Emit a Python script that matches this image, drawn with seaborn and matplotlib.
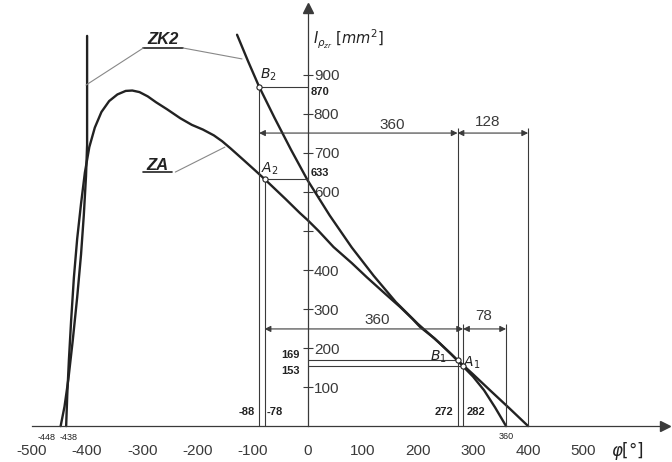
import numpy as np
import pandas as pd
import seaborn as sns
import matplotlib.pyplot as plt

# curve ZK2, left branch (nearly vertical) and right branch
zk2_left_phi = [-400, -400, -402, -406, -411, -418, -426, -434, -441, -448]
zk2_left_i = [1000, 720, 640, 540, 440, 330, 220, 120, 50, 0]
zk2_right_phi = [-128, -108, -88, -60, -30, 0, 40, 80, 120, 160, 200, 240, 272, 300, 330, 365, 400]
zk2_right_i = [1003, 935, 870, 790, 708, 630, 540, 458, 385, 318, 262, 212, 169, 133, 93, 47, 0]

# curve ZA
za_phi = [-438, -436, -433, -429, -424, -418, -411, -404, -396, -386, -374, -360,
          -345, -330, -318, -305, -290, -275, -255, -231, -210, -190, -170, -155,
          -140, -117, -95, -78, -40, -14, 0, 20, 47, 80, 107, 140, 168, 190,
          204, 230, 260, 282, 300, 320, 340, 360]
za_i = [0, 80, 170, 270, 380, 480, 570, 650, 715, 765, 805, 833,
        850, 859, 860, 856, 845, 830, 812, 789, 772, 760, 745, 730,
        712, 683, 655, 633, 582, 546, 528, 500, 459, 418, 382, 340, 305, 275,
        254, 225, 185, 153, 127, 92, 48, 0]

# characteristic points
pt_phi = [-88, -78, 272, 282]
pt_i = [870, 633, 169, 153]

# ticks
x_ticks = [-500, -400, -300, -200, -100, 0, 100, 200, 300, 400, 500]
y_ticks = [100, 200, 300, 400, 500, 600, 700, 800, 900]
y_ticklabels = ["100", "200", "300", "400", "", "600", "700", "800", "900"]

# dimension chains: (start, end, level, label)
dim_upper = [(-88, 272, 751, "360"), (272, 400, 751, "128")]
dim_lower = [(-78, 282, 249, "360"), (282, 360, 249, "78")]

sns.set_style("white")
plt.rcParams['font.family'] = ['Liberation Sans', 'DejaVu Sans']
plt.rcParams['mathtext.fontset'] = 'dejavusans'

fig = plt.figure(figsize=(6.72, 4.62), dpi=100)
ax = fig.add_axes([0, 0, 1, 1])
ax.set_xlim(-558, 661)
ax.set_ylim(-92, 1092)

ink = "#222222"
thin = "#3a3a3a"

sns.lineplot(x=zk2_left_phi, y=zk2_left_i, estimator=None, sort=False, color=ink, lw=1.7, ax=ax)
sns.lineplot(x=zk2_right_phi, y=zk2_right_i, estimator=None, sort=False, color=ink, lw=1.7, ax=ax)
sns.lineplot(x=za_phi, y=za_i, estimator=None, sort=False, color=ink, lw=1.7, ax=ax)

# construction lines
ax.vlines([-88, -78, 272, 400, 282, 360], 0, [870, 633, 764, 764, 262, 262], color=thin, lw=0.8)
ax.hlines([870, 633], [-88, -78], 0, color=thin, lw=0.8)
ax.hlines([169, 153], 0, [272, 282], color=thin, lw=0.8)

for a, b, lev, lab in dim_upper + dim_lower:
    ax.annotate("", xy=(b, lev), xytext=(a, lev),
                arrowprops=dict(arrowstyle='<|-|>', color=thin, lw=0.8,
                                shrinkA=0, shrinkB=0, mutation_scale=9))
ax.text(153, 772, "360", fontsize=11, ha='center', va='center', color=thin)
ax.text(326, 779, "128", fontsize=11, ha='center', va='center', color=thin)
ax.text(126, 272, "360", fontsize=11, ha='center', va='center', color=thin)
ax.text(319, 282, "78", fontsize=11, ha='center', va='center', color=thin)

sns.scatterplot(x=pt_phi, y=pt_i, s=14, facecolor='white', edgecolor=ink, linewidth=0.8, zorder=5, ax=ax)
ax.text(-72, 900, "$B_2$", fontsize=10, ha='center', va='center', color=ink)
ax.text(-68, 659, "$A_2$", fontsize=10, ha='center', va='center', color=ink)
ax.text(237, 177, "$B_1$", fontsize=10, ha='center', va='center', color=ink)
ax.text(297, 162, "$A_1$", fontsize=10, ha='center', va='center', color=ink)

# value labels
bold = dict(fontsize=8, fontweight='bold', color=ink, va='center')
ax.text(-95, 36, "-88", ha='right', **bold)
ax.text(-74, 36, "-78", ha='left', **bold)
ax.text(264, 36, "272", ha='right', **bold)
ax.text(289, 36, "282", ha='left', **bold)
ax.text(6, 856, "870", ha='left', **bold)
ax.text(6, 649, "633", ha='left', **bold)
ax.text(-14, 182, "169", ha='right', **bold)
ax.text(-14, 141, "153", ha='right', **bold)
ax.text(-458, -28, "-448", ha='right', va='center', fontsize=6.5, color=ink)
ax.text(-450, -28, "-438", ha='left', va='center', fontsize=6.5, color=ink)
ax.text(360, -26, "360", ha='center', va='center', fontsize=6.5, color=ink)

# curve names with leaders
ax.text(-263, 990, "ZK2", fontsize=12, fontweight='bold', style='italic', ha='center', va='center', color=ink)
ax.plot([-298, -226], [969, 969], color=ink, lw=1.2)
ax.plot([-298, -402], [969, 874], color="#888888", lw=0.8)
ax.plot([-226, -119], [969, 941], color="#888888", lw=0.8)
ax.text(-273, 669, "ZA", fontsize=12, fontweight='bold', style='italic', ha='center', va='center', color=ink)
ax.plot([-298, -246], [651, 651], color=ink, lw=1.2)
ax.plot([-240, -150], [651, 715], color="#888888", lw=0.8)

# axes through the origin
ax.spines['top'].set_visible(False)
ax.spines['left'].set_visible(False)
ax.spines['right'].set_position(('data', 0))
ax.spines['right'].set_bounds(0, 1070)
ax.spines['bottom'].set_position(('data', 0))
ax.spines['bottom'].set_bounds(-500, 645)
for s in ['right', 'bottom']:
    ax.spines[s].set_color(thin)
    ax.spines[s].set_linewidth(0.9)
ax.plot([648], [0], marker='>', ms=7, color=thin, clip_on=False)
ax.plot([0], [1072], marker='^', ms=7, color=thin, clip_on=False)

ax.yaxis.tick_right()
ax.set_yticks(y_ticks)
ax.set_yticklabels(y_ticklabels)
ax.set_xticks(x_ticks)
ax.set_xticklabels([str(v) for v in x_ticks])
ax.tick_params(axis='y', direction='inout', length=7, width=0.8, pad=1, labelsize=11, colors=thin)
ax.tick_params(axis='x', direction='out', length=4, width=0.8, pad=9, labelsize=11, colors=thin)

ax.text(10, 990, r"$I_{\rho_{zr}}$ $[mm^2]$", fontsize=10.5, ha='left', va='center', color=ink)
ax.text(580, -64, r"$\varphi[°]$", fontsize=12, ha='center', va='center', color=ink)

fig.savefig("out.png", dpi=100)
